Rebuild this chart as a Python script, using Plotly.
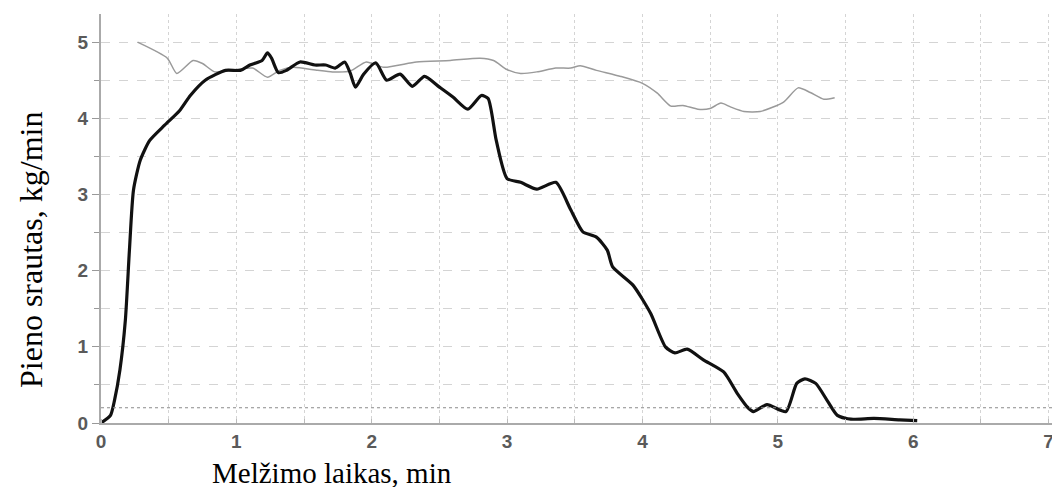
import plotly.graph_objects as go

# Black curve: milk flow (kg/min) vs milking time (min)
flow_t = [0.0, 0.07, 0.1, 0.14, 0.18, 0.21, 0.24, 0.29, 0.36, 0.47, 0.58, 0.66, 0.77, 0.92,
          1.03, 1.1, 1.19, 1.23, 1.26, 1.31, 1.37, 1.47, 1.58, 1.66, 1.73, 1.8, 1.84, 1.88,
          1.94, 2.03, 2.11, 2.21, 2.3, 2.39, 2.5, 2.6, 2.71, 2.81, 2.86, 2.92, 3.0, 3.1,
          3.22, 3.36, 3.47, 3.56, 3.66, 3.74, 3.78, 3.93, 4.06, 4.17, 4.24, 4.33, 4.45,
          4.6, 4.7, 4.78, 4.82, 4.92, 5.06, 5.14, 5.2, 5.28, 5.37, 5.44, 5.54, 5.71, 5.9, 6.03]
flow_v = [0.0, 0.1, 0.3, 0.7, 1.35, 2.27, 3.06, 3.45, 3.71, 3.91, 4.1, 4.3, 4.5, 4.63,
          4.63, 4.7, 4.76, 4.86, 4.79, 4.6, 4.63, 4.74, 4.7, 4.7, 4.66, 4.74, 4.6, 4.41,
          4.58, 4.73, 4.5, 4.58, 4.42, 4.55, 4.41, 4.28, 4.12, 4.3, 4.26, 3.71, 3.21, 3.16,
          3.07, 3.16, 2.8, 2.51, 2.44, 2.27, 2.05, 1.81, 1.44, 1.0, 0.92, 0.97, 0.83,
          0.67, 0.39, 0.2, 0.15, 0.24, 0.15, 0.52, 0.58, 0.52, 0.28, 0.1, 0.05, 0.06, 0.04, 0.03]

# Gray curve
gray_t = [0.27, 0.49, 0.56, 0.68, 0.75, 0.84, 1.0, 1.12, 1.23, 1.32, 1.42, 1.6, 1.71, 1.84,
          1.96, 2.09, 2.33, 2.58, 2.8, 2.9, 3.0, 3.1, 3.22, 3.36, 3.47, 3.54, 3.66, 3.84,
          4.0, 4.11, 4.21, 4.3, 4.41, 4.5, 4.58, 4.65, 4.75, 4.87, 5.04, 5.15, 5.24, 5.34, 5.42]
gray_v = [5.0, 4.79, 4.59, 4.76, 4.72, 4.61, 4.64, 4.66, 4.54, 4.63, 4.67, 4.63, 4.61, 4.62,
          4.74, 4.67, 4.74, 4.76, 4.79, 4.76, 4.64, 4.59, 4.61, 4.66, 4.66, 4.69, 4.63, 4.55,
          4.46, 4.33, 4.16, 4.17, 4.12, 4.13, 4.2, 4.15, 4.09, 4.09, 4.21, 4.4, 4.34, 4.25, 4.27]

threshold = 0.2
x_ticks = [0, 1, 2, 3, 4, 5, 6, 7]
y_ticks = [0, 1, 2, 3, 4, 5]

fig = go.Figure()
fig.add_trace(go.Scatter(x=gray_t, y=gray_v, mode="lines",
                         line=dict(color="#9a9a9a", width=1.5, shape="spline", smoothing=0.6),
                         showlegend=False, hoverinfo="skip"))
fig.add_trace(go.Scatter(x=flow_t, y=flow_v, mode="lines",
                         line=dict(color="#111111", width=3.2, shape="spline", smoothing=0.6),
                         showlegend=False))
fig.add_hline(y=threshold, line=dict(color="#8a8a8a", width=1.2, dash="dot"))

tickfont = dict(family="Liberation Sans, Arial", size=19, color="#5a5a5a", weight="bold")
fig.update_xaxes(range=[0, 7.07], tickvals=x_ticks, ticktext=[str(v) for v in x_ticks],
                 showgrid=True, gridcolor="#d4d4d4", griddash="dot", gridwidth=1,
                 minor=dict(dtick=0.5, showgrid=True, gridcolor="#d4d4d4", griddash="dot",
                            ticks="inside", ticklen=4, tickcolor="#bbbbbb"),
                 showline=True, linecolor="#aaaaaa", linewidth=2, zeroline=False,
                 ticks="", tickfont=tickfont)
fig.update_yaxes(range=[0, 5.37], tickvals=y_ticks, ticktext=[str(v) for v in y_ticks],
                 showgrid=True, gridcolor="#d4d4d4", griddash="dash", gridwidth=1,
                 minor=dict(dtick=0.5, showgrid=True, gridcolor="#d4d4d4", griddash="dash",
                            ticks="outside", ticklen=5, tickcolor="#999999"),
                 showline=True, linecolor="#aaaaaa", linewidth=2, zeroline=False,
                 ticks="outside", ticklen=7, tickcolor="#999999", tickfont=tickfont)

fig.add_annotation(text="Melžimo laikas, min", xref="paper", yref="paper",
                   x=(332 - 101) / 957, y=0, yshift=-50, xanchor="center", yanchor="middle",
                   showarrow=False, font=dict(family="Liberation Serif, Times New Roman", size=29, color="#000"))
fig.add_annotation(text="Pieno srautas, kg/min", xref="paper", yref="paper",
                   x=(31 - 101) / 957, y=(423 - 250) / 409, xanchor="center", yanchor="middle", textangle=-90,
                   showarrow=False, font=dict(family="Liberation Serif, Times New Roman", size=32, color="#000"))

# page body has an 8px default margin; compensate so the plot area lands at 101..1058 x 14..423
fig.update_layout(width=1060, height=487, margin=dict(l=93, r=10, t=6, b=72),
                  plot_bgcolor="white", paper_bgcolor="white")
fig.write_html("out.html")
